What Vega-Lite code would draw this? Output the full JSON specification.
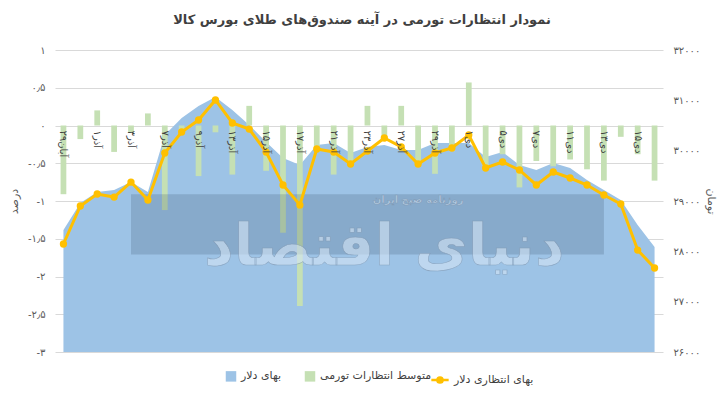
{
  "$schema": "https://vega.github.io/schema/vega-lite/v6.json",
  "autosize": {"type": "none"},
  "width": 608,
  "height": 302,
  "padding": {"left": 55, "top": 50, "right": 61, "bottom": 43},
  "background": "white",
  "config": {
    "font": "DejaVu Sans",
    "view": {"stroke": null},
    "axis": {"labelColor": "#595959", "titleColor": "#595959", "labelFontSize": 10, "titleFontWeight": "normal", "titleFontSize": 11}
  },
  "title": {"text": "نمودار انتظارات تورمی در آینه صندوق‌های طلای بورس کالا", "fontSize": 13, "fontWeight": "bold", "color": "#404040", "anchor": "middle", "offset": 18, "dx": 3},
  "data": {
    "values": [
      {"d": "۲۹آبان", "usd": 28424, "exp": 28146, "infl": -0.91},
      {"d": "۳۰آبان", "usd": 28960, "exp": 28901, "infl": -0.18},
      {"d": "۱آذر", "usd": 29179, "exp": 29139, "infl": 0.2},
      {"d": "۲آذر", "usd": 29219, "exp": 29079, "infl": -0.35},
      {"d": "۳آذر", "usd": 29377, "exp": 29377, "infl": -0.1},
      {"d": "۶آذر", "usd": 29180, "exp": 29020, "infl": 0.16},
      {"d": "۷آذر", "usd": 30311, "exp": 29954, "infl": -1.12},
      {"d": "۸آذر", "usd": 30649, "exp": 30371, "infl": -0.08},
      {"d": "۹آذر", "usd": 30887, "exp": 30609, "infl": -0.67},
      {"d": "۱۰آذر", "usd": 31066, "exp": 31007, "infl": -0.09},
      {"d": "۱۳آذر", "usd": 30808, "exp": 30550, "infl": -0.65},
      {"d": "۱۴آذر", "usd": 30510, "exp": 30430, "infl": 0.26},
      {"d": "۱۵آذر", "usd": 30172, "exp": 29973, "infl": -0.6},
      {"d": "۱۶آذر", "usd": 29854, "exp": 29318, "infl": -1.42},
      {"d": "۱۷آذر", "usd": 29715, "exp": 28920, "infl": -2.39},
      {"d": "۲۰آذر", "usd": 30113, "exp": 30033, "infl": -0.35},
      {"d": "۲۱آذر", "usd": 30152, "exp": 29973, "infl": -0.65},
      {"d": "۲۲آذر", "usd": 29954, "exp": 29735, "infl": -0.49},
      {"d": "۲۳آذر", "usd": 30073, "exp": 29993, "infl": 0.26},
      {"d": "۲۴آذر", "usd": 30113, "exp": 30252, "infl": -0.16},
      {"d": "۲۷آذر", "usd": 30013, "exp": 30073, "infl": 0.26},
      {"d": "۲۸آذر", "usd": 30013, "exp": 29735, "infl": -0.52},
      {"d": "۲۹آذر", "usd": 30152, "exp": 29954, "infl": -0.64},
      {"d": "۳۰آذر", "usd": 30152, "exp": 30053, "infl": -0.34},
      {"d": "۱دی", "usd": 30152, "exp": 30311, "infl": 0.57},
      {"d": "۴دی", "usd": 29874, "exp": 29656, "infl": -0.54},
      {"d": "۵دی", "usd": 29974, "exp": 29775, "infl": -0.38},
      {"d": "۶دی", "usd": 29715, "exp": 29616, "infl": -0.82},
      {"d": "۷دی", "usd": 29616, "exp": 29318, "infl": -0.47},
      {"d": "۸دی", "usd": 29755, "exp": 29576, "infl": -0.54},
      {"d": "۱۱دی", "usd": 29656, "exp": 29457, "infl": -0.45},
      {"d": "۱۲دی", "usd": 29417, "exp": 29318, "infl": -0.58},
      {"d": "۱۳دی", "usd": 29219, "exp": 29119, "infl": -0.73},
      {"d": "۱۴دی", "usd": 29020, "exp": 28940, "infl": -0.15},
      {"d": "۱۵دی", "usd": 28523, "exp": 28026, "infl": -0.38},
      {"d": "۱۸دی", "usd": 28086, "exp": 27669, "infl": -0.73}
    ]
  },
  "encoding": {
    "x": {
      "field": "d", "type": "ordinal", "sort": null,
      "scale": {"paddingInner": 0.66, "paddingOuter": 0.33},
      "axis": {
        "orient": "bottom", "offset": -226, "domain": false, "ticks": false, "title": null, "zindex": 1,
        "labelAngle": 90, "labelAlign": "left", "labelBaseline": "middle", "labelPadding": 4, "labelOverlap": false,
        "labelFontSize": 10, "labelColor": "#404040",
        "values": ["۲۹آبان", "۱آذر", "۳آذر", "۷آذر", "۹آذر", "۱۳آذر", "۱۵آذر", "۱۷آذر", "۲۱آذر", "۲۳آذر", "۲۷آذر", "۲۹آذر", "۱دی", "۵دی", "۷دی", "۱۱دی", "۱۳دی", "۱۵دی"]
      }
    }
  },
  "layer": [
    {
      "mark": {"type": "area"},
      "encoding": {
        "y": {
          "field": "usd", "type": "quantitative",
          "scale": {"domain": [26000, 32000], "nice": false, "zero": false},
          "axis": {
            "orient": "right", "values": [26000, 27000, 28000, 29000, 30000, 31000, 32000],
            "grid": false, "domain": false, "ticks": false, "labelPadding": 10,
            "title": "تومان", "titlePadding": 6, "titleAngle": 90,
            "labelExpr": "replace(replace(replace(replace(replace(replace(replace(replace(replace(replace(datum.value+'',regexp('0','g'),'۰'),regexp('1','g'),'۱'),regexp('2','g'),'۲'),regexp('3','g'),'۳'),regexp('4','g'),'۴'),regexp('5','g'),'۵'),regexp('6','g'),'۶'),regexp('7','g'),'۷'),regexp('8','g'),'۸'),regexp('9','g'),'۹')"
          }
        },
        "y2": {"datum": 26000},
        "fill": {
          "datum": "بهای دلار", "type": "nominal",
          "scale": {"domain": ["بهای دلار", "متوسط انتظارات تورمی"], "range": ["#9dc3e6", "#c5e0b4"]},
          "legend": {"orient": "none", "legendX": 170, "legendY": 320, "direction": "horizontal", "title": null, "symbolType": "square", "symbolSize": 110, "symbolOpacity": 1, "labelFontSize": 11, "labelColor": "#404040", "columnPadding": 22}
        }
      }
    },
    {
      "mark": {"type": "bar"},
      "encoding": {
        "y": {
          "field": "infl", "type": "quantitative",
          "scale": {"domain": [-3, 1], "nice": false},
          "axis": {
            "orient": "left", "values": [-3, -2.5, -2, -1.5, -1, -0.5, 0, 0.5, 1],
            "grid": true, "gridColor": "#d9d9d9", "domain": false, "ticks": false, "labelPadding": 10,
            "title": "درصد", "titlePadding": 8,
            "labelExpr": "replace(replace(replace(replace(replace(replace(replace(replace(replace(replace(replace(datum.value+'','.','٫'),regexp('0','g'),'۰'),regexp('1','g'),'۱'),regexp('2','g'),'۲'),regexp('3','g'),'۳'),regexp('4','g'),'۴'),regexp('5','g'),'۵'),regexp('6','g'),'۶'),regexp('7','g'),'۷'),regexp('8','g'),'۸'),regexp('9','g'),'۹')"
          }
        },
        "fill": {"datum": "متوسط انتظارات تورمی", "type": "nominal"}
      }
    },
    {
      "data": {"values": [{"a": "۳آذر", "b": "۱۳دی", "top": -0.91, "bottom": -1.71}]},
      "mark": {"type": "rect", "fill": "#33465e", "opacity": 0.2},
      "encoding": {
        "x": {"field": "a", "type": "ordinal"},
        "x2": {"field": "b"},
        "y": {"field": "top", "type": "quantitative", "scale": {"domain": [-3, 1], "nice": false}, "axis": null},
        "y2": {"field": "bottom"}
      }
    },
    {
      "data": {"values": [{"a": "۲۴آذر", "v": -1.62, "t": "دنیای اقتصاد"}, {"a": "۲۸آذر", "v": -0.99, "t": "روزنامه صبح ایران"}]},
      "mark": {"type": "text", "fill": "#d5e5f5", "opacity": 0.6, "stroke": "#7f93ab", "strokeWidth": 0.6, "fontWeight": "bold"},
      "encoding": {
        "x": {"field": "a", "type": "ordinal"},
        "y": {"field": "v", "type": "quantitative", "scale": {"domain": [-3, 1], "nice": false}, "axis": null},
        "text": {"field": "t"},
        "size": {"field": "t", "type": "nominal", "scale": {"domain": ["دنیای اقتصاد", "روزنامه صبح ایران"], "range": [58, 10]}, "legend": null}
      }
    },
    {
      "mark": {"type": "line", "strokeWidth": 3, "point": {"filled": true, "fill": "#ffc000", "size": 28}},
      "encoding": {
        "y": {"field": "exp", "type": "quantitative", "scale": {"domain": [26000, 32000], "nice": false, "zero": false}, "axis": null},
        "stroke": {
          "datum": "بهای انتظاری دلار", "type": "nominal",
          "scale": {"domain": ["بهای انتظاری دلار"], "range": ["#ffc000"]},
          "legend": {"orient": "none", "legendX": 375, "legendY": 320, "direction": "horizontal", "title": null, "symbolType": "M-1,0L1,0M-0.3,0A0.3,0.3,0,1,1,0.3,0A0.3,0.3,0,1,1,-0.3,0", "symbolFillColor": "#ffc000", "symbolStrokeWidth": 2.5, "symbolSize": 300, "labelFontSize": 11, "labelColor": "#404040"}
        }
      }
    }
  ],
  "resolve": {"scale": {"y": "independent"}}
}
